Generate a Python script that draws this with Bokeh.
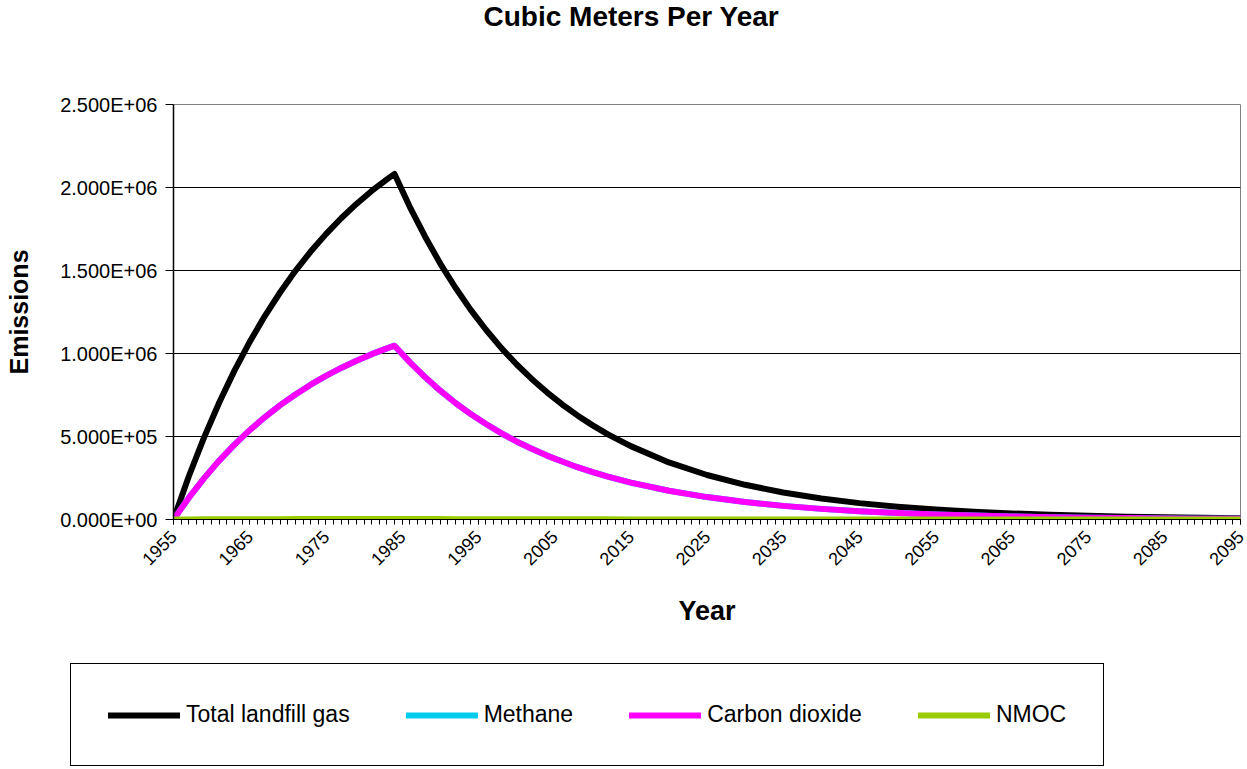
import math
from bokeh.plotting import figure
from bokeh.layouts import column
from bokeh.models import (Range1d, FixedTicker, CustomJSTickFormatter, Legend,
                          LegendItem, Title, ColumnDataSource)
from bokeh.embed import file_html
from bokeh.resources import INLINE

# ---- data ----
years = [1955, 1957, 1959, 1961, 1963, 1965, 1967, 1969, 1971, 1973, 1975, 1977,
         1979, 1981, 1983, 1984, 1986, 1988, 1990, 1992, 1994, 1996, 1998, 2000,
         2002, 2004, 2006, 2008, 2010, 2012, 2015, 2020, 2025, 2030, 2035, 2040,
         2045, 2050, 2055, 2060, 2065, 2070, 2075, 2080, 2085, 2090, 2095]

total_landfill_gas = [0, 259000, 493000, 705000, 897000, 1070000, 1227000, 1369000,
                      1498000, 1614000, 1719000, 1815000, 1901000, 1979000, 2049000,
                      2082000, 1884000, 1705000, 1542000, 1396000, 1263000, 1143000,
                      1034000, 935000, 847000, 766000, 693000, 627000, 567000, 513000,
                      442000, 344000, 268000, 209000, 163000, 127000, 98600, 76800,
                      59800, 46600, 36300, 28300, 22000, 17100, 13300, 10400, 8100]

methane = [0, 130000, 248000, 355000, 451000, 538000, 617000, 689000, 753000, 812000,
           865000, 913000, 956000, 996000, 1031000, 1047000, 948000, 858000, 776000,
           702000, 635000, 575000, 520000, 470000, 426000, 385000, 349000, 315000,
           285000, 258000, 222000, 173000, 135000, 105000, 82000, 64000, 49600, 38600,
           30100, 23400, 18300, 14200, 11100, 8600, 6700, 5200, 4100]

carbon_dioxide = [0, 130000, 248000, 355000, 451000, 538000, 617000, 689000, 753000,
                  812000, 865000, 913000, 956000, 996000, 1031000, 1047000, 948000,
                  858000, 776000, 702000, 635000, 575000, 520000, 470000, 426000,
                  385000, 349000, 315000, 285000, 258000, 222000, 173000, 135000,
                  105000, 82000, 64000, 49600, 38600, 30100, 23400, 18300, 14200,
                  11100, 8600, 6700, 5200, 4100]

nmoc = [0, 410, 790, 1130, 1440, 1710, 1960, 2190, 2400, 2580, 2750, 2900, 3040, 3170,
        3280, 3330, 3010, 2730, 2470, 2230, 2020, 1830, 1650, 1500, 1360, 1230, 1110,
        1000, 910, 820, 710, 550, 430, 330, 260, 200, 160, 120, 96, 75, 58, 45, 35, 27,
        21, 17, 13]

x_tick_years = [1955, 1965, 1975, 1985, 1995, 2005, 2015, 2025, 2035, 2045, 2055,
                2065, 2075, 2085, 2095]
x_minor_years = list(range(1955, 2096))
y_ticks = [0, 500000, 1000000, 1500000, 2000000, 2500000]

series_names = ["Total landfill gas", "Methane", "Carbon dioxide", "NMOC"]
series_cols = ["total", "methane", "co2", "nmoc"]
series_colors = ["#000000", "#00CCEE", "#FF00FF", "#99CC00"]

FONT = "Liberation Sans"
W = 1247

src = ColumnDataSource(dict(year=years, total=total_landfill_gas, methane=methane,
                            co2=carbon_dioxide, nmoc=nmoc))

# ---- main chart ----
p = figure(width=W, height=640, output_backend="svg", toolbar_location=None,
           title=None,
           x_range=Range1d(1955, 2095), y_range=Range1d(0, 2500000),
           min_border_left=173, min_border_right=7, min_border_top=104,
           min_border_bottom=121, background_fill_color="white",
           border_fill_color="white")

# spacer (nearest the frame) then the visible title above it
p.add_layout(Title(text=" ", text_font_size="10px", standoff=58), "above")
p.add_layout(Title(text="Cubic Meters Per Year", align="left", offset=310, standoff=0,
                   vertical_align="top", text_font=FONT, text_font_size="28px",
                   text_font_style="bold", text_color="black"), "above")

for col, color in zip(series_cols, series_colors):
    p.line("year", col, source=src, line_color=color, line_width=6,
           line_join="round", line_cap="round")

p.xaxis.ticker = FixedTicker(ticks=x_tick_years, minor_ticks=x_minor_years)
p.xaxis.major_label_orientation = math.pi / 4
p.xaxis.major_label_text_font = FONT
p.xaxis.major_label_text_font_size = "18px"
p.xaxis.major_label_text_color = "black"
p.xaxis.major_tick_out = 5
p.xaxis.major_tick_in = 0
p.xaxis.minor_tick_out = 5
p.xaxis.minor_tick_in = 0
p.xaxis.major_tick_line_color = "black"
p.xaxis.minor_tick_line_color = "black"
p.xaxis.axis_line_color = "black"
p.xaxis.axis_label = "Year"
p.xaxis.axis_label_text_font = FONT
p.xaxis.axis_label_text_font_size = "27px"
p.xaxis.axis_label_text_font_style = "bold"
p.xaxis.axis_label_text_color = "black"
p.xaxis.axis_label_standoff = 22
p.xaxis.major_label_standoff = 9

p.yaxis.ticker = FixedTicker(ticks=y_ticks, minor_ticks=[])
p.yaxis.formatter = CustomJSTickFormatter(code="""
const s = tick.toExponential(3).toUpperCase();
const parts = s.split('E');
const n = parseInt(parts[1]);
const a = Math.abs(n);
return parts[0] + 'E' + (n < 0 ? '-' : '+') + (a < 10 ? '0' : '') + a;
""")
p.yaxis.major_label_text_font = FONT
p.yaxis.major_label_text_font_size = "20px"
p.yaxis.major_label_text_color = "black"
p.yaxis.major_tick_out = 8
p.yaxis.major_tick_in = 0
p.yaxis.major_tick_line_color = "black"
p.yaxis.axis_line_color = "black"
p.yaxis.axis_line_width = 1.5
p.yaxis.major_label_standoff = 8
p.yaxis.axis_label = "Emissions"
p.yaxis.axis_label_text_font = FONT
p.yaxis.axis_label_text_font_size = "25px"
p.yaxis.axis_label_text_font_style = "bold"
p.yaxis.axis_label_text_color = "black"
p.yaxis.axis_label_standoff = 24

p.xgrid.grid_line_color = None
p.ygrid.grid_line_color = "black"
p.ygrid.grid_line_width = 1
p.outline_line_color = "#808080"
p.outline_line_width = 1

# ---- legend strip below the chart ----
lg = figure(width=W, height=128, output_backend="svg", toolbar_location=None,
            title=None, x_range=Range1d(0, 1), y_range=Range1d(0, 1),
            min_border_left=0, min_border_right=0, min_border_top=0,
            min_border_bottom=0, background_fill_color="white",
            border_fill_color="white")
lg.axis.visible = False
lg.grid.visible = False
lg.outline_line_color = None
try:
    lg.frame_align = False
except Exception:
    pass

items = []
for name, col, color in zip(series_names, series_cols, series_colors):
    # same series, outside this strip's view: only their legend glyphs show
    r = lg.line("year", col, source=src, line_color=color, line_width=6,
                line_cap="round")
    items.append(LegendItem(label=name, renderers=[r]))

legend = Legend(
    items=items, orientation="horizontal", location=(70, 2), margin=0,
    glyph_width=72, glyph_height=20, label_standoff=6, spacing=56, padding=37,
    border_line_color="black", border_line_width=1, border_line_alpha=1,
    background_fill_color="white", background_fill_alpha=1,
    label_text_font=FONT, label_text_font_size="23px", label_text_color="black",
    click_policy="none")
lg.add_layout(legend, "center")

layout = column(p, lg, spacing=0)
open("out.html", "w").write(file_html(layout, INLINE))
